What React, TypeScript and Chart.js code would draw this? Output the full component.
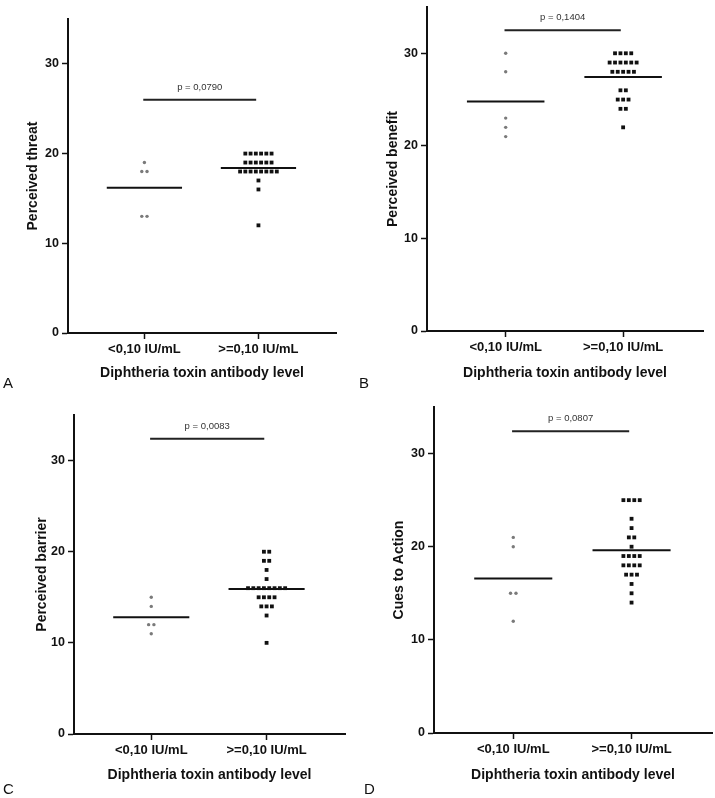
import React, { useEffect, useRef } from 'react';
import { Chart, registerables } from 'chart.js';

Chart.register(...registerables);

// ---------- data ----------
const categories = ['<0,10 IU/mL', '>=0,10 IU/mL'];
const xAxisTitle = 'Diphtheria toxin antibody level';
const yTickValues = [0, 10, 20, 30];

const threatLow = [19, 18, 18, 13, 13];
const threatHigh = [
  20, 20, 20, 20, 20, 20,
  19, 19, 19, 19, 19, 19,
  18, 18, 18, 18, 18, 18, 18, 18,
  17, 16, 12,
];
const benefitLow = [30, 28, 23, 22, 21];
const benefitHigh = [
  30, 30, 30, 30,
  29, 29, 29, 29, 29, 29,
  28, 28, 28, 28, 28,
  26, 26, 25, 25, 25, 24, 24, 22,
];
const barrierLow = [15, 14, 12, 12, 11];
const barrierHigh = [
  20, 20, 19, 19, 18, 17,
  16, 16, 16, 16, 16, 16, 16, 16,
  15, 15, 15, 15, 14, 14, 14, 13, 10,
];
const cuesLow = [21, 20, 15, 15, 12];
const cuesHigh = [
  25, 25, 25, 25, 23, 22, 21, 21, 20,
  19, 19, 19, 19, 18, 18, 18, 18,
  17, 17, 17, 16, 15, 14,
];

const yTitles = ['Perceived threat', 'Perceived benefit', 'Perceived barrier', 'Cues to Action'];
const pLabels = ['p = 0,0790', 'p = 0,1404', 'p = 0,0083', 'p = 0,0807'];
const pLevels = [26, 32.5, 32.4, 32.4];
const panelLetters = ['A', 'B', 'C', 'D'];
const lowGroups = [threatLow, benefitLow, barrierLow, cuesLow];
const highGroups = [threatHigh, benefitHigh, barrierHigh, cuesHigh];

// ---------- layout (positions / styles) ----------
const FONT = "'Liberation Sans', Arial, Helvetica, sans-serif";
const layouts = [
  { left: 0, top: 0, w: 357, h: 399, aL: 68, aT: 19, aR: 336, aB: 333, yTitleX: 33, xTitleY: 373 },
  { left: 357, top: 0, w: 358, h: 399, aL: 70, aT: 7, aR: 346, aB: 331, yTitleX: 36, xTitleY: 373 },
  { left: 0, top: 399, w: 357, h: 399, aL: 74, aT: 16, aR: 345, aB: 335, yTitleX: 42, xTitleY: 376 },
  { left: 357, top: 399, w: 358, h: 399, aL: 77, aT: 8, aR: 355, aB: 334, yTitleX: 42, xTitleY: 376 },
];
const letterPos = [
  { left: 3, top: 375 },
  { left: 359, top: 375 },
  { left: 3, top: 781 },
  { left: 364, top: 781 },
];
const X_MIN = 0.33;
const X_MAX = 2.68;
const SPACING = 0.046; // horizontal spacing between stacked points (x units)
const MEAN_HALF = 0.33;
const P_START = 0.99;
const P_END = 1.98;

function swarm(values: number[], center: number) {
  const counts = new Map<number, number>();
  values.forEach((v) => counts.set(v, (counts.get(v) || 0) + 1));
  const pts: { x: number; y: number }[] = [];
  counts.forEach((n, v) => {
    for (let i = 0; i < n; i++) {
      pts.push({ x: center + (i - (n - 1) / 2) * SPACING, y: v });
    }
  });
  return pts;
}

function mean(values: number[]) {
  return values.reduce((a, b) => a + b, 0) / values.length;
}

function Panel({ idx }: { idx: number }) {
  const ref = useRef<HTMLCanvasElement | null>(null);
  const L = layouts[idx];

  useEffect(() => {
    if (!ref.current) return;
    const low = lowGroups[idx];
    const high = highGroups[idx];
    const mLow = mean(low);
    const mHigh = mean(high);
    const pLevel = pLevels[idx];
    const pLabel = pLabels[idx];
    const titleLH = 14 * 1.2;

    const pTextPlugin = {
      id: 'pText',
      afterDatasetsDraw(chart: any) {
        const { ctx, scales } = chart;
        const x = scales.x.getPixelForValue((P_START + P_END) / 2);
        const y = scales.y.getPixelForValue(pLevel) - 12.5;
        ctx.save();
        ctx.font = `9.5px ${FONT}`;
        ctx.fillStyle = '#333';
        ctx.textAlign = 'center';
        ctx.textBaseline = 'middle';
        ctx.fillText(pLabel, x, y);
        ctx.restore();
      },
    };

    const chart = new Chart(ref.current, {
      type: 'scatter',
      data: {
        datasets: [
          {
            data: swarm(low, 1),
            pointStyle: 'circle',
            pointRadius: 1.7,
            backgroundColor: '#7a7a7a',
            borderColor: '#7a7a7a',
            borderWidth: 0,
          },
          {
            data: swarm(high, 2),
            pointStyle: 'rect',
            pointRadius: 2.7,
            backgroundColor: '#111',
            borderColor: '#111',
            borderWidth: 0,
          },
          {
            data: [{ x: 1 - MEAN_HALF, y: mLow }, { x: 1 + MEAN_HALF, y: mLow }],
            showLine: true,
            pointRadius: 0,
            borderColor: '#111',
            borderWidth: 2,
          },
          {
            data: [{ x: 2 - MEAN_HALF, y: mHigh }, { x: 2 + MEAN_HALF, y: mHigh }],
            showLine: true,
            pointRadius: 0,
            borderColor: '#111',
            borderWidth: 2,
          },
          {
            data: [{ x: P_START, y: pLevel }, { x: P_END, y: pLevel }],
            showLine: true,
            pointRadius: 0,
            borderColor: '#222',
            borderWidth: 2,
          },
        ],
      },
      options: {
        animation: false,
        responsive: false,
        maintainAspectRatio: false,
        events: [],
        layout: {
          autoPadding: false,
          padding: { left: 0, top: L.aT, right: L.w - L.aR, bottom: 0 },
        },
        plugins: {
          legend: { display: false },
          tooltip: { enabled: false },
        },
        scales: {
          x: {
            type: 'linear',
            min: X_MIN,
            max: X_MAX,
            afterBuildTicks: (scale: any) => {
              scale.ticks = [{ value: 1 }, { value: 2 }];
            },
            afterFit: (scale: any) => {
              scale.height = L.h - L.aB;
              scale.paddingLeft = 0;
              scale.paddingRight = 0;
            },
            ticks: {
              autoSkip: false,
              maxRotation: 0,
              padding: 3,
              color: '#111',
              font: { family: FONT, size: 13, weight: 'bold' },
              callback: (_v: any, i: number) => categories[i],
            },
            grid: {
              drawOnChartArea: false,
              drawTicks: true,
              tickLength: 6,
              tickWidth: 1.5,
              tickColor: '#111',
              color: '#111',
            },
            border: { display: true, color: '#111', width: 2 },
            title: {
              display: true,
              text: xAxisTitle,
              color: '#111',
              font: { family: FONT, size: 14, weight: 'bold' },
              padding: { top: 0, bottom: L.h - L.xTitleY - titleLH / 2 },
            },
          },
          y: {
            type: 'linear',
            min: 0,
            max: 35,
            afterBuildTicks: (scale: any) => {
              scale.ticks = yTickValues.map((v) => ({ value: v }));
            },
            afterFit: (scale: any) => {
              scale.width = L.aL;
              scale.paddingTop = 0;
              scale.paddingBottom = 0;
            },
            ticks: {
              padding: 3,
              color: '#111',
              font: { family: FONT, size: 12.5, weight: 'bold' },
            },
            grid: {
              drawOnChartArea: false,
              drawTicks: true,
              tickLength: 6,
              tickWidth: 1.5,
              tickColor: '#111',
              color: '#111',
            },
            border: { display: true, color: '#111', width: 2 },
            title: {
              display: true,
              text: yTitles[idx],
              color: '#111',
              font: { family: FONT, size: 14, weight: 'bold' },
              padding: { top: L.yTitleX - titleLH / 2, bottom: 0 },
            },
          },
        },
      } as any,
      plugins: [pTextPlugin],
    });
    return () => chart.destroy();
  }, [idx]);

  return (
    <canvas
      ref={ref}
      width={L.w}
      height={L.h}
      style={{ position: 'absolute', left: L.left, top: L.top, width: L.w, height: L.h }}
    />
  );
}

export default function App() {
  return (
    <div
      style={{
        position: 'fixed',
        left: 0,
        top: 0,
        width: 715,
        height: 798,
        background: '#fff',
        overflow: 'hidden',
      }}
    >
      {layouts.map((_, i) => (
        <Panel key={i} idx={i} />
      ))}
      {panelLetters.map((t, i) => (
        <div
          key={t}
          style={{
            position: 'absolute',
            left: letterPos[i].left,
            top: letterPos[i].top,
            fontFamily: FONT,
            fontSize: 15,
            lineHeight: '15px',
            color: '#111',
          }}
        >
          {t}
        </div>
      ))}
    </div>
  );
}
